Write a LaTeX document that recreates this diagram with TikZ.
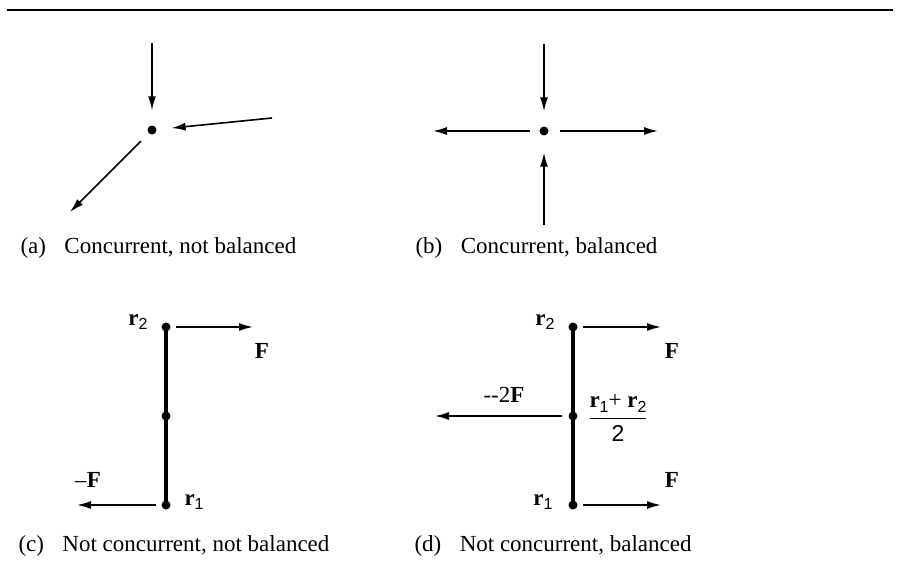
\documentclass[tikz,border=0pt]{standalone}
\usepackage{fontspec}
\setmainfont{Liberation Serif}
\newfontfamily\subfont{Liberation Sans}
\usetikzlibrary{arrows.meta}

\newcommand{\vsub}[1]{\raisebox{-4.5pt}{\fontsize{16}{16}\subfont #1}}
\newcommand{\vecr}[1]{\textbf{r}\vsub{#1}}

\begin{document}
\begin{tikzpicture}[
    x=1pt, y=-1pt,
    every node/.style={font=\fontsize{23}{27}\selectfont},
    point/.style={circle, fill, inner sep=0pt, minimum size=9pt},
    force/.style={draw, line width=1.6pt, -{Latex[length=14pt,width=8pt]}},
    rod/.style={draw, line width=3.4pt},
]

\useasboundingbox (0,0) rectangle (899,586);
\draw[line width=1.6pt] (7,10) -- (893,10);

% (a) Concourantes, non equilibrees
\node[point] (Oa) at (152,130) {};
\coordinate (a1) at (152,43);
\coordinate (a2) at (272,118);
\coordinate (a3) at (70,212);
\draw[force, shorten >=15pt] (a1) -- (Oa);
\draw[force, shorten >=15pt] (a2) -- (Oa);
\draw[force, shorten <=11pt] (Oa) -- (a3);
\node[anchor=base west] (capa) at (17,253) {(a)\hspace{0.8em}Concurrent, not balanced};

% (b) Concourantes, equilibrees
\node[point] (Ob) at (544,131) {};
\coordinate (b1) at (544,44);
\coordinate (b2) at (433,131);
\coordinate (b3) at (658,131);
\coordinate (b4) at (544,225);
\draw[force, shorten >=15pt] (b1) -- (Ob);
\draw[force, shorten <=9pt] (Ob) -- (b2);
\draw[force, shorten <=11pt] (Ob) -- (b3);
\draw[force, shorten >=17pt] (b4) -- (Ob);
\node[anchor=base west] (capb) at (412,253) {(b)\hspace{0.8em}Concurrent, balanced};

% (c) Non concourantes, non equilibrees
\node[point] (r2c) at (166,327) {};
\node[point] (mc) at (166,416) {};
\node[point] (r1c) at (166,505) {};
\draw[rod] (r2c.center) -- (r1c.center);
\coordinate (Fc) at (253,327);
\coordinate (mFc) at (77,505);
\draw[force, shorten <=5pt] (r2c) -- (Fc);
\draw[force, shorten <=5pt] (r1c) -- (mFc);
\node[anchor=base east] (lr2c) at (151,325) {\vecr{2}};
\node[anchor=base west] (lr1c) at (181,505) {\vecr{1}};
\node[anchor=base] (lFc) at (262,358) {\textbf{F}};
\node[anchor=base] (lmFc) at (88,487) {--\textbf{F}};
\node[anchor=base west] (capc) at (15,551) {(c)\hspace{0.8em}Not concurrent, not balanced};

% (d) Non concourantes, equilibrees
\node[point] (r2d) at (573,327) {};
\node[point] (md) at (573,416) {};
\node[point] (r1d) at (573,505) {};
\draw[rod] (r2d.center) -- (r1d.center);
\coordinate (F2d) at (661,327);
\coordinate (F1d) at (661,505);
\coordinate (m2Fd) at (435,416);
\draw[force, shorten <=5pt] (r2d) -- (F2d);
\draw[force, shorten <=5pt] (r1d) -- (F1d);
\draw[force, shorten <=6pt] (md) -- (m2Fd);
\node[anchor=base east] (lr2d) at (558,325) {\vecr{2}};
\node[anchor=base east] (lr1d) at (556,505) {\vecr{1}};
\node[anchor=base] (lF2d) at (672,358) {\textbf{F}};
\node[anchor=base] (lF1d) at (672,487) {\textbf{F}};
\node[anchor=base] (lm2Fd) at (504,402) {-{}-2\textbf{F}};
\node (lmid) at (618,418) {$\displaystyle\frac{\mbox{\vecr{1}+ \vecr{2}}}{\mbox{\subfont 2}}$};
\node[anchor=base west] (capd) at (411,551) {(d)\hspace{0.8em}Not concurrent, balanced};

\end{tikzpicture}
\end{document}
